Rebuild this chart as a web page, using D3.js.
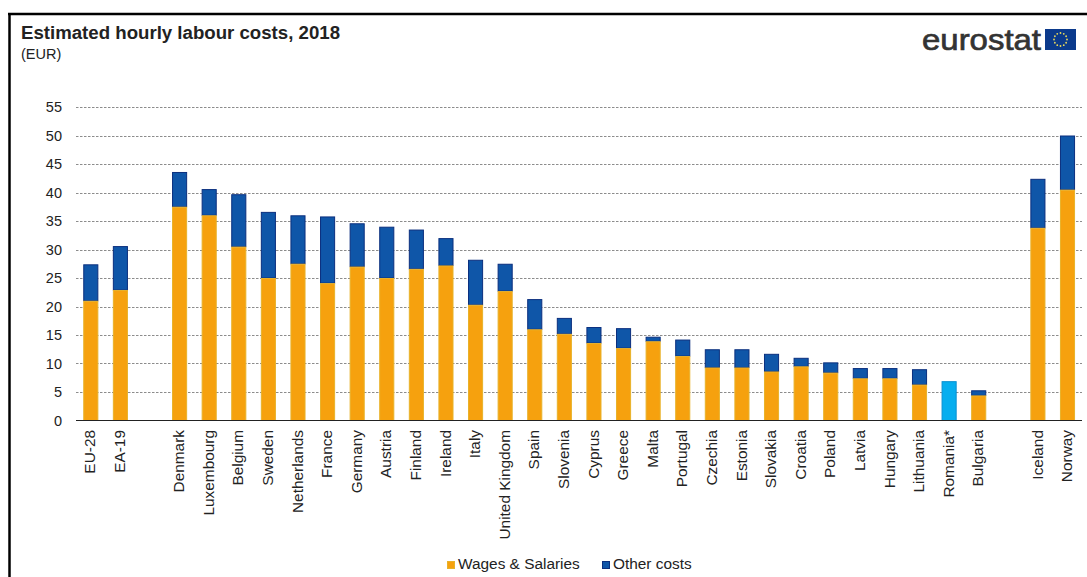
<!DOCTYPE html>
<html><head><meta charset="utf-8">
<script src="https://cdn.jsdelivr.net/npm/d3@7/dist/d3.min.js"></script>
<style>html,body{margin:0;padding:0;background:#fff}svg{display:block}text{font-family:"Liberation Sans",Arial,sans-serif;fill:#222}</style>
</head><body><svg id="c" width="1087" height="577"></svg>
<script>
const title="Estimated hourly labour costs, 2018", unit="(EUR)";
const categories=["EU-28","EA-19","","Denmark","Luxembourg","Belgium","Sweden","Netherlands","France","Germany","Austria","Finland","Ireland","Italy","United Kingdom","Spain","Slovenia","Cyprus","Greece","Malta","Portugal","Czechia","Estonia","Slovakia","Croatia","Poland","Latvia","Hungary","Lithuania","Romania*","Bulgaria"," ","Iceland","Norway"];
const wages=[21.0,22.9,null,37.5,36.0,30.5,25.0,27.5,24.1,27.0,25.0,26.6,27.2,20.3,22.7,16.0,15.2,13.6,12.7,13.9,11.3,9.3,9.3,8.6,9.5,8.4,7.4,7.4,6.3,null,4.4,null,33.8,40.5];
const other=[6.4,7.7,null,6.1,4.6,9.2,11.6,8.5,11.7,7.6,9.0,6.9,4.8,7.9,4.8,5.3,2.8,2.8,3.5,0.8,2.9,3.2,3.2,3.1,1.5,1.8,1.8,1.8,2.7,null,0.9,null,8.6,9.5];
const totalOnly=[null,null,null,null,null,null,null,null,null,null,null,null,null,null,null,null,null,null,null,null,null,null,null,null,null,null,null,null,null,6.9,null,null,null,null];
const yTicks=[0,5,10,15,20,25,30,35,40,45,50,55];
const legendLabels=["Wages & Salaries","Other costs"];
const colors={wages:"#f6a10e",wagesEdge:"#e8b22a",other:"#0f56a8",otherEdge:"#0b2f7e",total:"#06aeef",totalEdge:"#0a8fd0"};

const svg=d3.select("#c");
const x=d3.scaleBand().domain(categories).range([75.2,1081.5]).paddingInner(0.49).paddingOuter(0.245);
const y=d3.scaleLinear().domain([0,55]).range([420.5,107]);

svg.append("line").attr("x1",8).attr("x2",1087).attr("y1",14).attr("y2",14).attr("stroke","#000").attr("stroke-width",2.5);
svg.append("line").attr("x1",9.5).attr("x2",9.5).attr("y1",13).attr("y2",577).attr("stroke","#000").attr("stroke-width",2.5);

svg.append("text").attr("x",21).attr("y",39).attr("font-size",17.5).attr("font-weight","bold").attr("textLength",319).attr("lengthAdjust","spacingAndGlyphs").text(title);
svg.append("text").attr("x",21).attr("y",59).attr("font-size",14.5).text(unit);

svg.append("text").attr("x",922).attr("y",50).attr("font-size",30).attr("textLength",119).attr("lengthAdjust","spacingAndGlyphs").style("fill","#333").style("stroke","#333").style("stroke-width",0.7).text("eurostat");
const flag=svg.append("g").attr("transform","translate(1045,29)");
flag.append("rect").attr("width",31).attr("height",21).attr("fill","#0b3a8c");
d3.range(12).forEach(i=>{const a=i/12*2*Math.PI;flag.append("circle").attr("cx",15.5+6.5*Math.cos(a)).attr("cy",10.5+6.5*Math.sin(a)).attr("r",0.9).attr("fill","#e8d95a");});

const yAxis=d3.axisLeft(y).tickValues(yTicks).tickSize(0).tickPadding(0);
const gy=svg.append("g").attr("transform","translate(62,0)").call(yAxis);
gy.select(".domain").remove();
gy.selectAll("text").attr("font-size",14.5).style("fill","#222");
svg.append("g").selectAll("line").data(yTicks.filter(d=>d>0)).join("line")
 .attr("x1",76).attr("x2",1082).attr("y1",d=>Math.round(y(d))+.5).attr("y2",d=>Math.round(y(d))+.5)
 .attr("stroke","#8c8c8c").attr("stroke-width",1).attr("stroke-dasharray","2.5,1.5");

const rows=categories.map((c,i)=>({c,w:wages[i],o:other[i],t:totalOnly[i]}));
const g=svg.append("g").attr("transform","translate(0.8,0)");
const bw=x.bandwidth();
const bar=(sel,y0,y1,fill,edge)=>sel.append("rect").attr("x",d=>x(d.c)+.5).attr("width",bw-1)
  .attr("y",d=>y(y1(d))+.5).attr("height",d=>y(y0(d))-y(y1(d))-.5).attr("fill",fill).attr("stroke",edge).attr("stroke-width",1);
bar(g.selectAll(null).data(rows.filter(d=>d.o!=null)).enter(),d=>d.w,d=>d.w+d.o,colors.other,colors.otherEdge);
bar(g.selectAll(null).data(rows.filter(d=>d.w!=null)).enter(),d=>0,d=>d.w,colors.wages,colors.wagesEdge);
bar(g.selectAll(null).data(rows.filter(d=>d.t!=null)).enter(),d=>0,d=>d.t,colors.total,colors.totalEdge);

svg.append("line").attr("x1",76).attr("x2",1082).attr("y1",420.5).attr("y2",420.5).attr("stroke","#222").attr("stroke-width",1);
const xAxis=d3.axisBottom(x).tickSize(0).tickPadding(0);
const gx=svg.append("g").attr("transform","translate(0,430)").call(xAxis);
gx.select(".domain").remove();
gx.selectAll("text").attr("font-size",15.4).attr("text-anchor","end").attr("dy",null).attr("y",0).attr("x",0)
  .attr("transform","rotate(-90) translate(0,5.5)").style("fill","#222");

const lg=svg.append("g");
[[447,colors.wages,colors.wagesEdge,458],[602,colors.other,colors.otherEdge,613]].forEach((l,i)=>{
 lg.append("rect").attr("x",l[0]+.5).attr("y",561.5).attr("width",7).attr("height",7).attr("fill",l[1]).attr("stroke",l[2]);
 lg.append("text").attr("x",l[3]).attr("y",569).attr("font-size",15.4).text(legendLabels[i]);
});
</script></body></html>
